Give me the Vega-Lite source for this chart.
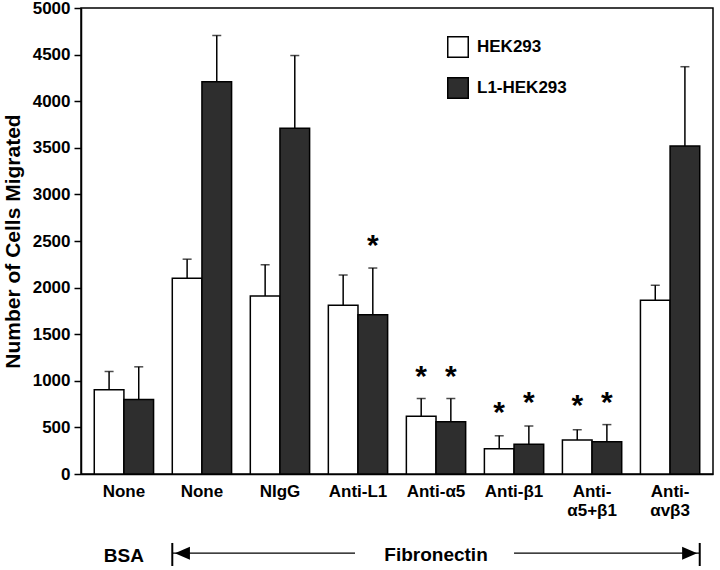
{
  "$schema": "https://vega.github.io/schema/vega-lite/v6.json",
  "autosize": {"type": "none"},
  "width": 632,
  "height": 466,
  "padding": {"left": 81, "top": 8, "right": 7, "bottom": 96},
  "background": "white",
  "config": {
    "font": "Liberation Sans",
    "view": {"stroke": "black", "strokeWidth": 1.5},
    "axis": {"grid": false, "domainColor": "black", "domainWidth": 1.5, "tickColor": "black", "tickWidth": 1.5, "labelColor": "black", "titleColor": "black", "labelFont": "Liberation Sans", "titleFont": "Liberation Sans", "labelFontWeight": "bold", "titleFontWeight": "bold"}
  },
  "datasets": {
    "bars": [
      {"g": "BSA:None", "series": "HEK293", "value": 905, "err": 1100},
      {"g": "BSA:None", "series": "L1-HEK293", "value": 800, "err": 1150},
      {"g": "FN:None", "series": "HEK293", "value": 2100, "err": 2305},
      {"g": "FN:None", "series": "L1-HEK293", "value": 4210, "err": 4705},
      {"g": "FN:NIgG", "series": "HEK293", "value": 1910, "err": 2245},
      {"g": "FN:NIgG", "series": "L1-HEK293", "value": 3710, "err": 4490},
      {"g": "FN:Anti-L1", "series": "HEK293", "value": 1810, "err": 2135},
      {"g": "FN:Anti-L1", "series": "L1-HEK293", "value": 1710, "err": 2210, "star": 2510},
      {"g": "FN:Anti-α5", "series": "HEK293", "value": 620, "err": 810, "star": 1105},
      {"g": "FN:Anti-α5", "series": "L1-HEK293", "value": 560, "err": 810, "star": 1105},
      {"g": "FN:Anti-β1", "series": "HEK293", "value": 270, "err": 410, "star": 720},
      {"g": "FN:Anti-β1", "series": "L1-HEK293", "value": 320, "err": 515, "star": 825},
      {"g": "FN:Anti-|α5+β1", "series": "HEK293", "value": 365, "err": 475, "star": 795},
      {"g": "FN:Anti-|α5+β1", "series": "L1-HEK293", "value": 345, "err": 530, "star": 830},
      {"g": "FN:Anti-|αvβ3", "series": "HEK293", "value": 1865, "err": 2025},
      {"g": "FN:Anti-|αvβ3", "series": "L1-HEK293", "value": 3520, "err": 4370}
    ],
    "labels": [
      {"g": "BSA:None", "y": -880, "t": "BSA"},
      {"g": "FN:Anti-α5", "y": -872, "t": "Fibronectin"}
    ],
    "leftArrow": [{"from": "FN:None", "to": "FN:Anti-L1", "y": -850, "y1": -740, "y2": -987}],
    "rightArrow": [{"from": "FN:Anti-β1", "to": "FN:Anti-|αvβ3", "y": -850, "y1": -740, "y2": -987}]
  },
  "layer": [
    {
      "data": {"name": "bars"},
      "mark": {"type": "bar", "stroke": "black", "strokeWidth": 1.5},
      "encoding": {
        "x": {"field": "g", "type": "nominal", "sort": null, "title": null,
          "scale": {"paddingInner": 0.24, "paddingOuter": 0.17},
          "axis": {"labelExpr": "split(slice(datum.value, indexof(datum.value, ':') + 1), '|')", "labelAngle": 0, "ticks": false, "labelPadding": 17, "labelFontSize": 17, "labelBaseline": "middle", "labelLineHeight": 19}},
        "xOffset": {"field": "series", "type": "nominal", "sort": null},
        "y": {"field": "value", "type": "quantitative", "title": "Number of Cells Migrated",
          "scale": {"domain": [0, 5000], "nice": false},
          "axis": {"values": [0, 500, 1000, 1500, 2000, 2500, 3000, 3500, 4000, 4500, 5000], "format": "d", "labelFontSize": 17, "tickSize": 7, "labelPadding": 4, "titleFontSize": 21, "titlePadding": 9}},
        "color": {"field": "series", "type": "nominal", "sort": null, "title": null,
          "scale": {"range": ["white", "#2e2e2e"]},
          "legend": {"orient": "none", "legendX": 366, "legendY": 28, "symbolType": "square", "symbolSize": 420, "symbolStrokeColor": "black", "symbolStrokeWidth": 1.5, "labelFontSize": 17, "labelFontWeight": "bold", "labelFont": "Liberation Sans", "labelColor": "black", "labelOffset": 8, "rowPadding": 13}}
      }
    },
    {
      "data": {"name": "bars"},
      "mark": {"type": "rule", "color": "black", "strokeWidth": 1.5},
      "encoding": {
        "x": {"field": "g", "type": "nominal", "sort": null},
        "xOffset": {"field": "series", "type": "nominal", "sort": null},
        "y": {"field": "value", "type": "quantitative"},
        "y2": {"field": "err"}
      }
    },
    {
      "data": {"name": "bars"},
      "mark": {"type": "tick", "color": "black", "thickness": 1.5, "size": 9, "orient": "horizontal"},
      "encoding": {
        "x": {"field": "g", "type": "nominal", "sort": null},
        "xOffset": {"field": "series", "type": "nominal", "sort": null},
        "y": {"field": "err", "type": "quantitative"}
      }
    },
    {
      "data": {"name": "bars"},
      "transform": [{"filter": "datum.star != null"}],
      "mark": {"type": "text", "text": "*", "fontSize": 30, "fontWeight": "bold", "baseline": "middle", "dy": 6, "color": "black"},
      "encoding": {
        "x": {"field": "g", "type": "nominal", "sort": null},
        "xOffset": {"field": "series", "type": "nominal", "sort": null},
        "y": {"field": "star", "type": "quantitative"}
      }
    },
    {
      "data": {"name": "labels"},
      "mark": {"type": "text", "fontSize": 19, "fontWeight": "bold", "baseline": "middle", "color": "black"},
      "encoding": {
        "x": {"field": "g", "type": "nominal", "sort": null},
        "y": {"field": "y", "type": "quantitative"},
        "text": {"field": "t"}
      }
    },
    {
      "data": {"name": "leftArrow"},
      "mark": {"type": "rule", "color": "black", "strokeWidth": 1.2},
      "encoding": {
        "x": {"field": "from", "type": "nominal", "sort": null, "bandPosition": 0},
        "x2": {"field": "to", "bandPosition": 0.45},
        "y": {"field": "y", "type": "quantitative"}
      }
    },
    {
      "data": {"name": "leftArrow"},
      "mark": {"type": "rule", "color": "black", "strokeWidth": 2},
      "encoding": {
        "x": {"field": "from", "type": "nominal", "sort": null, "bandPosition": 0},
        "y": {"field": "y1", "type": "quantitative"},
        "y2": {"field": "y2"}
      }
    },
    {
      "data": {"name": "leftArrow"},
      "mark": {"type": "point", "filled": true, "color": "black", "opacity": 1, "size": 225, "shape": "M 0.35 0 L 2.35 -0.87 L 2.35 0.87 Z"},
      "encoding": {
        "x": {"field": "from", "type": "nominal", "sort": null, "bandPosition": 0},
        "y": {"field": "y", "type": "quantitative"}
      }
    },
    {
      "data": {"name": "rightArrow"},
      "mark": {"type": "rule", "color": "black", "strokeWidth": 1.2},
      "encoding": {
        "x": {"field": "from", "type": "nominal", "sort": null, "bandPosition": 0.5},
        "x2": {"field": "to", "bandPosition": 1},
        "y": {"field": "y", "type": "quantitative"}
      }
    },
    {
      "data": {"name": "rightArrow"},
      "mark": {"type": "rule", "color": "black", "strokeWidth": 2},
      "encoding": {
        "x": {"field": "to", "type": "nominal", "sort": null, "bandPosition": 1},
        "y": {"field": "y1", "type": "quantitative"},
        "y2": {"field": "y2"}
      }
    },
    {
      "data": {"name": "rightArrow"},
      "mark": {"type": "point", "filled": true, "color": "black", "opacity": 1, "size": 225, "shape": "M -0.35 0 L -2.35 -0.87 L -2.35 0.87 Z"},
      "encoding": {
        "x": {"field": "to", "type": "nominal", "sort": null, "bandPosition": 1},
        "y": {"field": "y", "type": "quantitative"}
      }
    }
  ]
}
